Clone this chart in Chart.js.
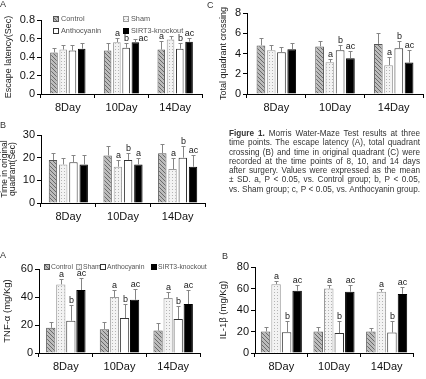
<!DOCTYPE html>
<html>
<head>
<meta charset="utf-8">
<script src="https://cdn.jsdelivr.net/npm/chart.js@4"></script>
<style>
  html, body { margin: 0; padding: 0; background: #fff; }
  #fig { position: relative; width: 426px; height: 379px; overflow: hidden; font-family: "Liberation Sans", Arial, sans-serif; }
  #fig canvas { position: absolute; }
  .tag { position: absolute; font-size: 9px; line-height: 1; color: #333; }
  #caption { position: absolute; left: 229px; top: 129px; width: 191px; font-size: 8.2px; line-height: 9.3px; color: #333; }
  #caption div { white-space: nowrap; text-align: justify; text-align-last: justify; }
</style>
</head>
<body>
<div id="fig">
  <canvas id="latency" width="212" height="116" style="left:0;top:0"></canvas>
  <canvas id="quadTime" width="212" height="116" style="left:0;top:116px"></canvas>
  <canvas id="crossing" width="221" height="116" style="left:205px;top:0"></canvas>
  <canvas id="tnf" width="212" height="139" style="left:0;top:240px"></canvas>
  <canvas id="il1b" width="213" height="139" style="left:213px;top:240px"></canvas>

  <div class="tag" style="left:0;top:0">A</div>
  <div class="tag" style="left:0;top:121px">B</div>
  <div class="tag" style="left:207px;top:1px">C</div>
  <div class="tag" style="left:0;top:251px">A</div>
  <div class="tag" style="left:222px;top:252px">B</div>

  <div id="caption">
    <div><b>Figure 1.</b> Morris Water-Maze Test results at three</div>
    <div>time points. The escape latency (A), total quadrant</div>
    <div>crossing (B) and time in original quadrant (C) were</div>
    <div>recorded at the time points of 8, 10, and 14 days</div>
    <div>after surgery. Values were expressed as the mean</div>
    <div>± SD. a, P &lt; 0.05, vs. Control group; b, P &lt; 0.05,</div>
    <div>vs. Sham group; c, P &lt; 0.05, vs. Anthocyanin group.</div>
  </div>
</div>

<script>
// ─── DATA ──────────────────────────────────────────────────
const days   = ['8Day', '10Day', '14Day'];
const groups = ['Control', 'Sham', 'Anthocyanin', 'SIRT3-knockout'];

// rows follow `groups`, columns follow `days`
const latencyMean = [[0.45, 0.47, 0.48], [0.48, 0.56, 0.59], [0.47, 0.50, 0.49], [0.49, 0.56, 0.565]];
const latencySd   = [[0.05, 0.08, 0.095], [0.05, 0.05, 0.04], [0.055, 0.055, 0.06], [0.06, 0.03, 0.045]];
const latencyMark = [['', '', 'a'], ['', 'a', ''], ['', 'b', 'b'], ['', 'ac', 'ac']];

const quadMean = [[19, 21, 22], [17, 16, 15], [18, 19, 20], [17, 17, 16]];
const quadSd   = [[3, 4, 4], [3, 3, 5], [3, 3, 5], [4, 3, 5]];
const quadMark = [['', '', ''], ['', 'a', 'a'], ['', 'b', 'b'], ['', 'a', 'ac']];

const crossMean = [[4.8, 4.7, 4.95], [4.33, 3.14, 2.84], [4.13, 4.33, 4.53], [4.43, 3.54, 3.1]];
const crossSd   = [[0.72, 0.53, 1.05], [0.5, 0.3, 0.8], [0.5, 0.5, 0.66], [0.6, 0.72, 1.26]];
const crossMark = [['', '', ''], ['', 'a', 'a'], ['', 'b', 'b'], ['', 'ac', 'ac']];

const tnfMean = [[18, 17, 16], [49, 40, 39.3], [23, 25, 24.3], [45, 38, 35]];
const tnfSd   = [[4.4, 5.3, 5.2], [3.8, 5, 4.5], [11.4, 10.2, 9], [8.8, 7.8, 9.8]];

const ilMean = [[20, 20, 20], [64, 60, 57], [19.4, 18.5, 19], [58, 57, 55]];
const ilSd   = [[4, 4, 3], [2.6, 3.4, 3], [10.6, 11, 10.5], [5, 6, 6.5]];

const cytoMark = [['', '', ''], ['a', 'a', 'a'], ['b', 'b', 'b'], ['ac', 'ac', 'ac']];

// ─── FILLS ─────────────────────────────────────────────────
const FONT = '"Liberation Sans", Arial, sans-serif';

function tile(size, draw) {
  const c = document.createElement('canvas');
  c.width = c.height = size;
  const g = c.getContext('2d');
  draw(g);
  return g.createPattern(c, 'repeat');
}

const hatchFill = tile(4, g => {
  g.fillStyle = '#bcbcbc'; g.fillRect(0, 0, 4, 4);
  g.fillStyle = '#6a6a6a';
  for (let i = 0; i < 4; i++) g.fillRect(i, i, 1, 1);
});
const dotFill = tile(3, g => {
  g.fillStyle = '#f3f3f3'; g.fillRect(0, 0, 3, 3);
  g.fillStyle = '#b4b4b4'; g.fillRect(1, 1, 1, 1);
});

const fills = [hatchFill, dotFill, '#ffffff', '#000000'];
const edges = ['#555555', '#9a9a9a', '#333333', '#000000'];

Chart.defaults.font.family = FONT;

// ─── PLUGINS ───────────────────────────────────────────────
// upper SD whisker + significance letter above each bar
function whiskers(side) {
  return {
    id: 'whiskers',
    afterDatasetsDraw(chart) {
      const ctx = chart.ctx, y = chart.scales.y;
      ctx.save();
      ctx.font = '9px ' + FONT;
      chart.data.datasets.forEach((ds, i) => {
        chart.getDatasetMeta(i).data.forEach((bar, j) => {
          const x   = Math.round(bar.x) + 0.5;
          const top = Math.round(y.getPixelForValue(ds.data[j] + ds.sd[j])) + 0.5;
          ctx.strokeStyle = '#858585';
          ctx.lineWidth = 1;
          ctx.beginPath();
          ctx.moveTo(x, bar.y); ctx.lineTo(x, top);
          ctx.moveTo(x - 2, top); ctx.lineTo(x + 2, top);
          ctx.stroke();
          const m = ds.marks[j];
          if (!m) return;
          ctx.fillStyle = '#1a1a1a';
          if (side && side[i + '-' + j]) {
            ctx.textAlign = 'left'; ctx.textBaseline = 'middle';
            ctx.fillText(m, x + 3, top - 1);
          } else {
            ctx.textAlign = 'center'; ctx.textBaseline = 'alphabetic';
            ctx.fillText(m, x, top - 3);
          }
        });
      });
      ctx.restore();
    }
  };
}

function boxLegend(spots, size, gap) {
  return {
    id: 'boxLegend',
    afterDraw(chart) {
      const ctx = chart.ctx;
      ctx.save();
      ctx.font = size + 'px ' + FONT;
      ctx.textBaseline = 'middle';
      chart.data.datasets.forEach((ds, i) => {
        const [x, y] = spots[i];
        ctx.fillStyle = ds.backgroundColor;
        ctx.fillRect(x, y - 3, 6, 6);
        ctx.strokeStyle = ds.borderColor;
        ctx.lineWidth = 1;
        ctx.strokeRect(x + 0.5, y - 2.5, 5, 5);
        ctx.fillStyle = '#555';
        ctx.fillText(ds.label, x + gap, y);
      });
      ctx.restore();
    }
  };
}

// ─── PANELS ────────────────────────────────────────────────
function drawPanel(id, o) {
  const extra = [whiskers(o.side)];
  if (o.legend) extra.push(o.legend);
  return new Chart(document.getElementById(id), {
    type: 'bar',
    data: {
      labels: days,
      datasets: groups.map((g, i) => ({
        label: g,
        data: o.mean[i],
        sd: o.sd[i],
        marks: o.marks[i],
        backgroundColor: fills[i],
        borderColor: edges[i],
        borderWidth: 1,
        barPercentage: o.barPct,
        categoryPercentage: o.catPct,
      })),
    },
    options: {
      responsive: false,
      animation: false,
      devicePixelRatio: 1,
      layout: { padding: o.pad },
      plugins: { legend: { display: false }, tooltip: { enabled: false } },
      scales: {
        x: {
          grid: { drawOnChartArea: false, color: '#000', tickLength: 4, offset: true },
          border: { color: '#000' },
          ticks: { font: { size: 11, family: FONT }, color: '#111', padding: 3.5 },
          afterFit: s => { s.height = o.xh; },
        },
        y: {
          min: 0, max: o.max,
          ticks: { stepSize: o.step, font: { size: 11, family: FONT }, color: '#111', padding: 2 },
          grid: { drawOnChartArea: false, color: '#000', tickLength: 4 },
          border: { color: '#000' },
          title: {
            display: true, text: o.title, color: '#222',
            font: { size: o.titleSize || 9, lineHeight: o.titleLh || 1.2, family: FONT },
            padding: { top: o.titlePad, bottom: 0 },
          },
          afterFit: s => { s.width = o.yw; },
        },
      },
    },
    plugins: extra,
  });
}

drawPanel('latency', {
  mean: latencyMean, sd: latencySd, marks: latencyMark, side: { '3-1': true },
  max: 0.8, step: 0.2, title: 'Escape latency(Sec)', titlePad: 3,
  pad: { top: 20, right: 10, left: 0, bottom: 0 }, yw: 41, xh: 22,
  barPct: 0.82, catPct: 0.69,
  legend: boxLegend([[53, 19], [123, 19], [53, 31], [123, 31]], 7.3, 8),
});

drawPanel('quadTime', {
  mean: quadMean, sd: quadSd, marks: quadMark,
  max: 30, step: 10, title: ['Time in original', 'quadrant(Sec)'], titlePad: 0,
  titleSize: 8.5, titleLh: 1.0,
  pad: { top: 19, right: 7, left: 0, bottom: 0 }, yw: 41, xh: 29,
  barPct: 0.82, catPct: 0.75,
});

drawPanel('crossing', {
  mean: crossMean, sd: crossSd, marks: crossMark,
  max: 8, step: 2, title: 'Total quadrant crossing', titlePad: 13,
  pad: { top: 13, right: 3, left: 0, bottom: 0 }, yw: 42, xh: 22,
  barPct: 0.85, catPct: 0.70,
});

drawPanel('tnf', {
  mean: tnfMean, sd: tnfSd, marks: cytoMark,
  max: 60, step: 10, title: 'TNF-α (mg/Kg)', titlePad: 2, titleSize: 9.5,
  pad: { top: 29, right: 12, left: 0, bottom: 0 }, yw: 39, xh: 26,
  barPct: 0.92, catPct: 0.75,
  legend: boxLegend([[44, 27], [76, 27], [100, 27], [151, 27]], 6.8, 7),
});

drawPanel('il1b', {
  mean: ilMean, sd: ilSd, marks: cytoMark,
  max: 80, step: 20, title: 'IL-1β (mg/Kg)', titlePad: 5, titleSize: 9.5,
  pad: { top: 27, right: 13, left: 0, bottom: 0 }, yw: 42, xh: 26,
  barPct: 0.9, catPct: 0.8,
});
</script>
</body>
</html>
